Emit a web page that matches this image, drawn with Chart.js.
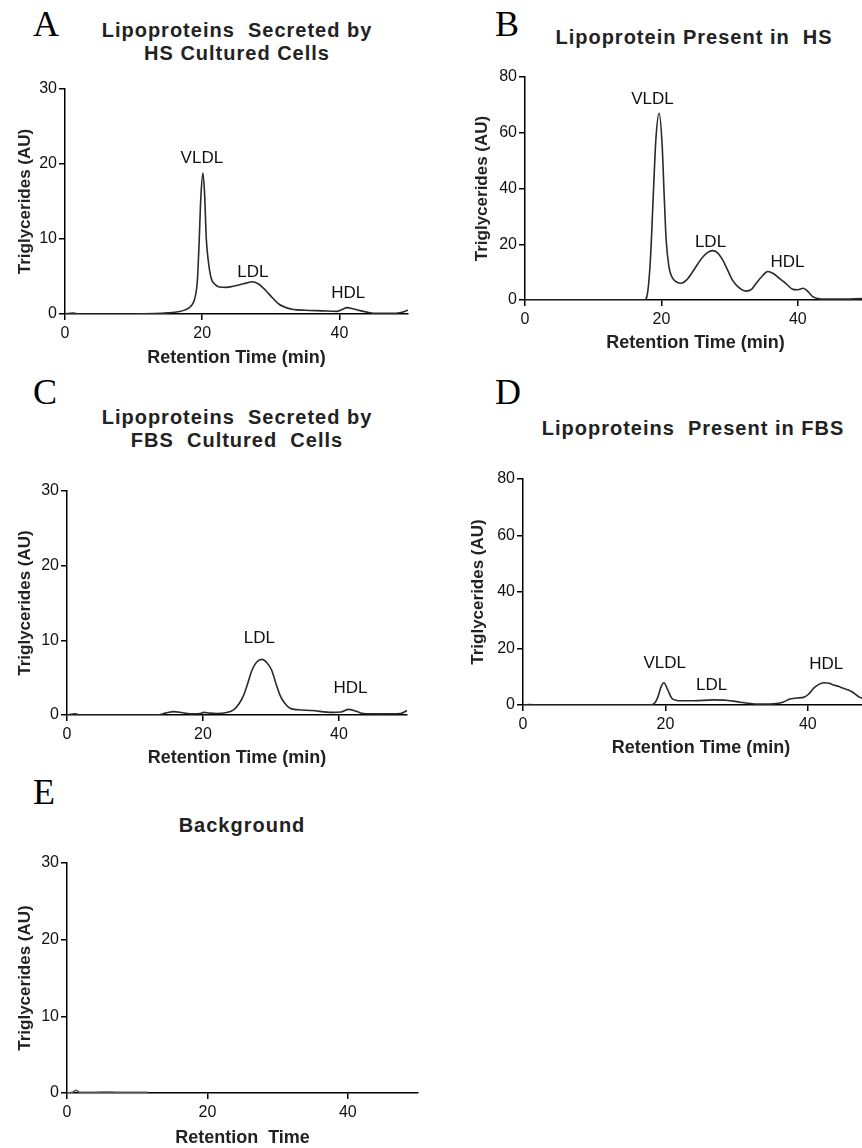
<!DOCTYPE html>
<html>
<head>
<meta charset="utf-8">
<script src="https://cdn.jsdelivr.net/npm/chart.js@4.4.1/dist/chart.umd.min.js"></script>
<style>
body{margin:0;width:862px;height:1148px;overflow:hidden;background:#fff;position:relative;font-family:"Liberation Sans",Arial,sans-serif}
.letter{position:absolute;font-family:"Liberation Serif","DejaVu Serif",serif;font-size:36px;line-height:36px;color:#000}
.title{position:absolute;font-weight:bold;font-size:20px;line-height:23px;letter-spacing:1px;white-space:pre;text-align:center;color:#222;transform:translateX(-50%)}
canvas{position:absolute}
</style>
</head>
<body>
<div class="letter" style="left:33px;top:6px">A</div>
<div class="title" style="left:237px;top:19px">Lipoproteins  Secreted by
HS Cultured Cells</div>
<div class="letter" style="left:495px;top:6px">B</div>
<div class="title" style="left:694px;top:26px">Lipoprotein Present in  HS</div>
<div class="letter" style="left:33px;top:374px">C</div>
<div class="title" style="left:237px;top:406px">Lipoproteins  Secreted by
FBS  Cultured  Cells</div>
<div class="letter" style="left:495px;top:374px">D</div>
<div class="title" style="left:693px;top:417px">Lipoproteins  Present in FBS</div>
<div class="letter" style="left:33px;top:774px">E</div>
<div class="title" style="left:242px;top:814px">Background</div>

<canvas id="chartA"></canvas>
<canvas id="chartB"></canvas>
<canvas id="chartC"></canvas>
<canvas id="chartD"></canvas>
<canvas id="chartE"></canvas>

<script>
// retention time (min) and triglycerides (AU)
var timeA = [0, 1.2, 2, 10, 13, 15, 16.5, 17.5, 18.3, 18.9, 19.3, 19.55, 19.8, 20.1, 20.35, 20.6, 20.9, 21.3, 21.8, 22.5, 23.5, 24.5, 25.5, 26.5, 27.3, 28.2, 29.2, 30.2, 31.2, 32.2, 33.3, 35, 37.5, 39.6, 40.4, 41.1, 42, 43, 44, 45, 47.5, 49, 50];
var trigA = [0, 0.12, 0, 0, 0.05, 0.15, 0.3, 0.55, 1.0, 2.0, 4.5, 9.5, 15.5, 18.8, 16, 10, 7, 4.8, 4.0, 3.6, 3.55, 3.7, 3.9, 4.15, 4.3, 4.0, 3.2, 2.2, 1.3, 0.85, 0.6, 0.5, 0.42, 0.35, 0.6, 0.85, 0.7, 0.45, 0.25, 0.1, 0.08, 0.2, 0.5];

var timeB = [0, 15, 17.5, 18.0, 18.4, 18.8, 19.2, 19.67, 20.1, 20.4, 20.7, 21.1, 21.6, 22.2, 22.9, 23.7, 24.6, 25.4, 26.1, 26.8, 27.5, 28.2, 29.0, 29.7, 30.4, 31.2, 32.4, 33.2, 33.9, 34.8, 35.6, 36.4, 37.3, 38.3, 39.3, 40.0, 40.8, 41.5, 42.2, 43.0, 43.7, 46, 49.5];
var trigB = [0, 0, 0, 3, 15, 37, 58, 67, 56, 38, 21.5, 12, 8, 6.5, 6.0, 7.2, 10.2, 13.2, 15.5, 17.1, 17.7, 17.0, 14.3, 10.8, 7.2, 4.8, 3.2, 3.8, 6.0, 8.6, 10.2, 9.5, 7.8, 5.8, 3.8, 3.7, 4.2, 3.0, 1.2, 0.5, 0.3, 0.3, 0.5];

var timeC = [0, 1.2, 2, 10, 13.2, 14.5, 15.7, 17, 18.5, 19.6, 20.1, 21, 22, 23.3, 24.5, 25.3, 26.0, 26.6, 27.2, 27.9, 28.7, 29.4, 30.1, 30.7, 31.3, 32, 32.8, 34, 36, 39, 40.3, 41.4, 42.5, 43.6, 46, 49, 50];
var trigC = [0, 0.15, 0, 0, 0, 0.25, 0.45, 0.3, 0.15, 0.2, 0.35, 0.25, 0.2, 0.3, 0.7, 1.5, 2.7, 4.3, 6.0, 7.1, 7.45, 7.0, 6.0, 4.3, 2.7, 1.6, 0.9, 0.7, 0.6, 0.35, 0.4, 0.75, 0.5, 0.2, 0.15, 0.2, 0.6];

var timeD = [0, 1, 2, 10, 17.5, 18.3, 18.9, 19.4, 19.8, 20.3, 20.9, 21.5, 22.0, 24, 26.7, 28.5, 30.5, 32, 32.8, 34, 35.2, 36.5, 37.5, 38.5, 39.4, 40.1, 40.8, 41.5, 42.2, 43, 43.6, 44.3, 45.0, 45.6, 46.2, 47.3, 47.8];
var trigD = [0, 0.2, 0, 0, 0, 0.3, 2.5, 6.5, 7.9, 5.5, 2.4, 1.7, 1.5, 1.5, 1.8, 1.7, 1.0, 0.5, 0.3, 0.3, 0.4, 1.0, 2.1, 2.5, 2.7, 3.8, 5.9, 7.2, 7.9, 7.7, 7.1, 6.6, 5.9, 5.4, 4.7, 2.7, 2.3];

var timeE = [0, 0.8, 1.3, 1.8, 3, 5, 7, 9, 11.5];
var trigE = [0, 0.1, 0.35, 0.1, 0.08, 0.12, 0.1, 0.08, 0.08];

var timeTicks = [0, 20, 40];
var trigTicks30 = [0, 10, 20, 30];
var trigTicks80 = [0, 20, 40, 60, 80];

// peak names and where they sit (time, AU)
var peaksA = ["VLDL", "LDL", "HDL"];
var peakTimeA = [19.95, 27.4, 41.3];
var peakTrigA = [20.7, 5.5, 2.7];
var peaksB = ["VLDL", "LDL", "HDL"];
var peakTimeB = [18.7, 27.2, 38.5];
var peakTrigB = [72.1, 20.8, 13.6];
var peaksC = ["LDL", "HDL"];
var peakTimeC = [28.3, 41.7];
var peakTrigC = [10.3, 3.6];
var peaksD = ["VLDL", "LDL", "HDL"];
var peakTimeD = [19.9, 26.5, 42.6];
var peakTrigD = [14.9, 7.1, 14.5];

var FONT = '"Liberation Sans", Arial, sans-serif';

var peakLabels = {
	id: 'peakLabels',
	afterDatasetsDraw: function(chart, args, opts){
		if (!opts.names) return;
		var ctx = chart.ctx;
		ctx.save();
		ctx.font = '17px ' + FONT;
		ctx.fillStyle = '#111';
		ctx.textAlign = 'center';
		ctx.textBaseline = 'middle';
		for (var i = 0; i < opts.names.length; i++) {
			ctx.fillText(opts.names[i], chart.scales.x.getPixelForValue(opts.x[i]), chart.scales.y.getPixelForValue(opts.y[i]));
		}
		ctx.restore();
	}
};

function makeChart(id, area, xs, ys, yMax, yTicks, xTitle, peaks, lineColor){
	var yW = 56, xH = 56, padT = 14, padR = 8;
	var cv = document.getElementById(id);
	var left = area.l - yW, top = area.t - padT;
	cv.width = area.r + padR - left;
	cv.height = area.b + xH - top;
	cv.style.left = left + 'px';
	cv.style.top = top + 'px';
	var pts = [];
	for (var i = 0; i < xs.length; i++) pts.push({x: xs[i], y: ys[i]});
	return new Chart(cv, {
		type: 'line',
		data: {
			datasets: [{
				data: pts,
				borderColor: lineColor || '#2a2a2a',
				borderWidth: 1.6,
				pointRadius: 0,
				cubicInterpolationMode: 'monotone',
				fill: false
			}]
		},
		options: {
			responsive: false,
			animation: false,
			layout: {padding: {left: 0, top: padT, right: padR, bottom: 0}},
			plugins: {
				legend: {display: false},
				tooltip: {enabled: false},
				peakLabels: peaks || {}
			},
			scales: {
				x: {
					type: 'linear', min: 0, max: 50,
					afterBuildTicks: function(s){ s.ticks = timeTicks.map(function(v){ return {value: v}; }); },
					afterFit: function(s){ s.height = xH; },
					grid: {display: true, drawOnChartArea: false, drawTicks: true, tickLength: 6, color: '#000', lineWidth: 1.5},
					border: {display: true, color: '#000', width: 1.5},
					ticks: {font: {family: FONT, size: 16}, color: '#111', padding: 4, maxRotation: 0, autoSkip: false},
					title: {display: true, text: xTitle, font: {family: FONT, size: 18, weight: 'bold'}, color: '#222', padding: {top: 0, bottom: area.xtp}}
				},
				y: {
					min: 0, max: yMax,
					afterBuildTicks: function(s){ s.ticks = yTicks.map(function(v){ return {value: v}; }); },
					afterFit: function(s){ s.width = yW; },
					grid: {display: true, drawOnChartArea: false, drawTicks: true, tickLength: 6, color: '#000', lineWidth: 1.5},
					border: {display: true, color: '#000', width: 1.5},
					ticks: {font: {family: FONT, size: 16}, color: '#111', padding: 2},
					title: {display: true, text: 'Triglycerides (AU)', font: {family: FONT, size: 17, weight: 'bold'}, color: '#222', padding: {top: area.ytp, bottom: 0}}
				}
			}
		},
		plugins: [peakLabels]
	});
}

makeChart('chartA', {l: 65, t: 89, r: 408, b: 314, ytp: 5.8, xtp: 1}, timeA, trigA, 30, trigTicks30, 'Retention Time (min)',
	{names: peaksA, x: peakTimeA, y: peakTrigA});
makeChart('chartB', {l: 525, t: 77, r: 866, b: 300, ytp: 2.8, xtp: 2}, timeB, trigB, 80, trigTicks80, 'Retention Time (min)',
	{names: peaksB, x: peakTimeB, y: peakTrigB});
makeChart('chartC', {l: 67, t: 491, r: 407, b: 715, ytp: 4.1, xtp: 2}, timeC, trigC, 30, trigTicks30, 'Retention Time (min)',
	{names: peaksC, x: peakTimeC, y: peakTrigC});
makeChart('chartD', {l: 523, t: 479, r: 879, b: 705, ytp: 0.8, xtp: 2}, timeD, trigD, 80, trigTicks80, 'Retention Time (min)',
	{names: peaksD, x: peakTimeD, y: peakTrigD});
makeChart('chartE', {l: 67, t: 863, r: 418, b: 1093, ytp: 3.8, xtp: 0}, timeE, trigE, 30, trigTicks30, 'Retention  Time', null, '#555');
</script>
</body>
</html>
